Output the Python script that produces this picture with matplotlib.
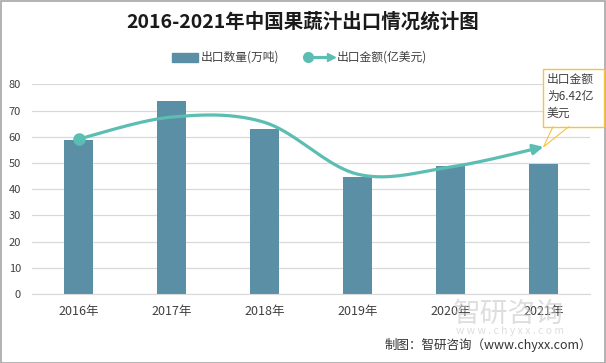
import numpy as np
import matplotlib
matplotlib.use("Agg")
import matplotlib.pyplot as plt
from matplotlib.patches import Rectangle, Polygon
from matplotlib.lines import Line2D

plt.rcParams['font.family'] = ['Noto Sans CJK SC', 'DejaVu Sans']

years = ["2016年", "2017年", "2018年", "2019年", "2020年", "2021年"]
quantity = [58.8, 73.7, 63.0, 44.7, 48.9, 49.6]      # 出口数量(万吨)
value = [6.76, 7.72, 7.49, 5.23, 5.54, 6.42]          # 出口金额(亿美元)

title = "2016-2021年中国果蔬汁出口情况统计图"
bar_label = "出口数量(万吨)"
line_label = "出口金额(亿美元)"
note = "出口金额\n为6.42亿\n美元"
source = "制图：智研咨询（www.chyxx.com）"

W, H = 606, 363
fig = plt.figure(figsize=(W / 100, H / 100), dpi=100)
bar_color = "#5b8fa5"
line_color = "#5cbdb3"
note_color = "#f5c342"

def fx(px):
    return px / W

def fy(py):
    return 1 - py / H

ax = fig.add_axes([fx(32), fy(294), 558 / W, (294 - 84.3) / H])
x = np.arange(len(years))
ax.bar(x, quantity, width=0.32, color=bar_color, zorder=2)
ax.set_xlim(-0.5, len(years) - 0.5)
ax.set_ylim(0, 80)
ax.set_yticks(range(0, 81, 10))
ax.grid(axis='y', color='#d9d9d9', linewidth=0.9, zorder=0)
for s in ['top', 'right', 'left']:
    ax.spines[s].set_visible(False)
ax.spines['bottom'].set_color('#d9d9d9')
ax.tick_params(axis='both', length=0, colors='#404040')
ax.tick_params(axis='y', labelsize=8, pad=8)
ax.tick_params(axis='x', labelsize=9, pad=8)
ax.set_xticks(x)
ax.set_xticklabels(years)

# hidden secondary axis for value line
ax2 = ax.twinx()
ax2.set_ylim(0, 9.15)
ax2.axis('off')

# Excel-like smooth curve (Bezier through points)
P = np.column_stack([x.astype(float), np.array(value, float)])
pts = []
n = len(P)
for i in range(n - 1):
    p0 = P[i - 1] if i > 0 else P[i]
    p1 = P[i]
    p2 = P[i + 1]
    p3 = P[i + 2] if i + 2 < n else P[i + 1]
    c1 = p1 + (p2 - p0) / 6
    c2 = p2 - (p3 - p1) / 6
    t = np.linspace(0, 1, 40)[:, None]
    seg = (1 - t) ** 3 * p1 + 3 * (1 - t) ** 2 * t * c1 + 3 * (1 - t) * t ** 2 * c2 + t ** 3 * p2
    pts.append(seg if i == 0 else seg[1:])
curve = np.vstack(pts)
ax2.plot(curve[:-6, 0], curve[:-6, 1], color=line_color, linewidth=2.3, solid_capstyle='butt', zorder=3)
ax2.annotate('', xy=(curve[-1, 0], curve[-1, 1]), xytext=(curve[-7, 0], curve[-7, 1]),
             arrowprops=dict(arrowstyle='-|>,head_length=0.6,head_width=0.3', color=line_color,
                             lw=2.3, shrinkA=0, shrinkB=0))
ax2.plot([x[0]], [value[0]], 'o', color=line_color, markersize=8, zorder=4)

# callout box with pointer to the last point
tip = ax2.transData.transform((x[-1], value[-1]))
tip_fig = fig.transFigure.inverted().transform(tip)
fig.patches.append(Polygon([[fx(553), fy(126.5)], [tip_fig[0], tip_fig[1]], [fx(569), fy(126.5)]],
                           closed=False, transform=fig.transFigure, fill=False, ec=note_color, lw=0.8,
                           zorder=5))
fig.patches.append(Rectangle((fx(543), fy(127)), 61 / W, 58 / H, transform=fig.transFigure,
                             fc='white', ec=note_color, lw=1, zorder=4))
for k, line in enumerate(note.split("\n")):
    fig.text(fx(547), fy(79 + 17 * k), line, ha='left', va='center', fontsize=8.5, color='#404040',
             zorder=6)

# title
fig.text(0.5, fy(22), title, ha='center', va='center', fontsize=14, fontweight='bold', color='#1a1a1a')

# legend (manual)
fig.patches.append(Rectangle((fx(172), fy(62)), 26 / W, 9 / H, transform=fig.transFigure,
                             color=bar_color))
fig.text(fx(201), fy(57), bar_label, ha='left', va='center', fontsize=8.5, color='#404040')
fig.lines.append(Line2D([fx(308), fx(326)], [fy(57)] * 2, transform=fig.transFigure,
                        color=line_color, lw=2.3))
fig.lines.append(Line2D([fx(308)], [fy(57)], transform=fig.transFigure, marker='o',
                        markersize=7, color=line_color))
fig.lines.append(Line2D([fx(331)], [fy(57)], transform=fig.transFigure, marker='>',
                        markersize=6, color=line_color))
fig.text(fx(337), fy(57), line_label, ha='left', va='center', fontsize=8.5, color='#404040')

# watermark
fig.text(fx(508), fy(314), "智研咨询", ha='center', va='center', fontsize=20, color='#c8c8c8', alpha=0.6)
fig.text(fx(510), fy(331), "w w w . c h y x x . c o m", ha='center', va='center', fontsize=7.5,
         color='#c8c8c8', alpha=0.6)

# source
fig.text(fx(592), fy(345), source, ha='right', va='center', fontsize=9, color='#333333')

# border
fig.patches.append(Rectangle((0.5 / W, 0.5 / H), 1 - 1.5 / W, 1 - 1.5 / H, transform=fig.transFigure,
                             fill=False, ec='#a6a6a6', lw=1.2))

fig.savefig("out.png", dpi=100)
